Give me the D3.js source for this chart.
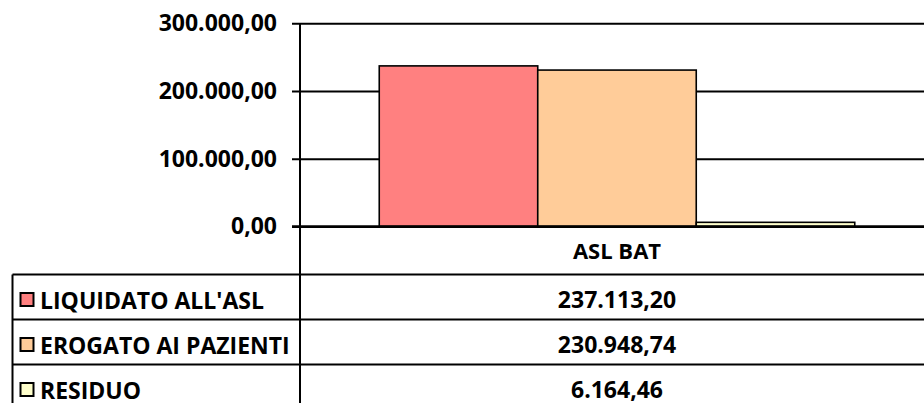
<!DOCTYPE html>
<html>
<head>
<meta charset="utf-8">
<script src="https://cdn.jsdelivr.net/npm/d3@7"></script>
<style>
  body { margin: 0; background: #fff; }
  text { font-family: "Open Sans", sans-serif; font-weight: bold; fill: #000; }
</style>
</head>
<body>
<div id="chart"></div>
<script>
// Data
const categories = ['ASL BAT'];
const series = ["LIQUIDATO ALL'ASL", 'EROGATO AI PAZIENTI', 'RESIDUO'];
const values = [237113.20, 230948.74, 6164.46];
const valueLabels = ['237.113,20', '230.948,74', '6.164,46'];
const tickValues = [0, 100000, 200000, 300000];
const tickLabels = ['0,00', '100.000,00', '200.000,00', '300.000,00'];
const colors = ['#FF8080', '#FFCC99', '#FFFFCC'];

// Dimensions
const dimensions = {
  width: 924,
  height: 403,
  plotLeft: 300,
  plotRight: 934,
  plotTop: 23.3,
  plotBottom: 226.5,
  tableTop: 274.5,
  rowHeight: 45,
  tableLeft: 12.5
};

const svg = d3.select('#chart')
  .append('svg')
  .attr('width', dimensions.width)
  .attr('height', dimensions.height);

// Scales
const yScale = d3.scaleLinear()
  .domain([0, 300000])
  .range([dimensions.plotBottom, dimensions.plotTop]);

const xScale = d3.scaleBand()
  .domain(categories)
  .range([dimensions.plotLeft, dimensions.plotRight]);

const seriesScale = d3.scaleBand()
  .domain(series)
  .range([0, xScale.bandwidth()])
  .paddingInner(0)
  .paddingOuter(0.5);

// Gridlines + tick labels
const yAxis = d3.axisLeft(yScale)
  .tickValues(tickValues)
  .tickSize(-(dimensions.width - dimensions.plotLeft + 20))
  .tickSizeOuter(0)
  .tickFormat((d, i) => tickLabels[i]);

const axisG = svg.append('g')
  .attr('transform', `translate(${dimensions.plotLeft},0)`)
  .call(yAxis);
axisG.select('.domain').remove();
axisG.selectAll('.tick line')
  .attr('x1', -8)
  .attr('stroke', '#000')
  .attr('stroke-width', 2);
axisG.selectAll('.tick text')
  .attr('x', -23)
  .attr('dy', '0.32em')
  .style('font-size', '23px')
  .style('font-family', '"Open Sans", sans-serif');

// Bars
const groups = svg.selectAll('g.cat')
  .data(categories)
  .join('g')
  .attr('class', 'cat')
  .attr('transform', d => `translate(${xScale(d)},0)`);

groups.selectAll('rect')
  .data(() => series.map((s, i) => ({ s, v: values[i], c: colors[i] })))
  .join('rect')
  .attr('x', d => seriesScale(d.s))
  .attr('y', d => yScale(d.v))
  .attr('width', seriesScale.bandwidth())
  .attr('height', d => yScale(0) - yScale(d.v))
  .attr('fill', d => d.c)
  .attr('stroke', '#000')
  .attr('stroke-width', 1.6);

// Zero line (x axis)
svg.append('line')
  .attr('x1', dimensions.plotLeft - 8)
  .attr('x2', dimensions.width)
  .attr('y1', yScale(0))
  .attr('y2', yScale(0))
  .attr('stroke', '#000')
  .attr('stroke-width', 2.5);

// Y axis line, continues through the table
svg.append('line')
  .attr('x1', dimensions.plotLeft)
  .attr('x2', dimensions.plotLeft)
  .attr('y1', dimensions.plotTop)
  .attr('y2', dimensions.height)
  .attr('stroke', '#000')
  .attr('stroke-width', 2);

// Category label
svg.selectAll('text.cat')
  .data(categories)
  .join('text')
  .attr('class', 'cat')
  .attr('x', d => xScale(d) + xScale.bandwidth() / 2)
  .attr('y', 259)
  .attr('text-anchor', 'middle')
  .style('font-size', '22px')
  .text(d => d);

// Data table
const rowY = i => dimensions.tableTop + i * dimensions.rowHeight;

svg.selectAll('line.row')
  .data(series)
  .join('line')
  .attr('class', 'row')
  .attr('x1', dimensions.tableLeft)
  .attr('x2', dimensions.width)
  .attr('y1', (d, i) => rowY(i))
  .attr('y2', (d, i) => rowY(i))
  .attr('stroke', '#000')
  .attr('stroke-width', 2);

svg.append('line')
  .attr('x1', dimensions.tableLeft)
  .attr('x2', dimensions.tableLeft)
  .attr('y1', dimensions.tableTop)
  .attr('y2', dimensions.height)
  .attr('stroke', '#000')
  .attr('stroke-width', 2);

const rows = svg.selectAll('g.row')
  .data(series)
  .join('g')
  .attr('class', 'row')
  .attr('transform', (d, i) => `translate(0,${rowY(i)})`);

rows.append('rect')
  .attr('x', 20.5)
  .attr('y', 18.5)
  .attr('width', 13)
  .attr('height', 13)
  .attr('fill', (d, i) => colors[i])
  .attr('stroke', '#000')
  .attr('stroke-width', 2);

rows.append('text')
  .attr('x', 40)
  .attr('y', 34)
  .style('font-size', '23px')
  .text(d => d);

rows.append('text')
  .attr('x', xScale(categories[0]) + xScale.bandwidth() / 2)
  .attr('y', 33)
  .attr('text-anchor', 'middle')
  .style('font-size', '23px')
  .text((d, i) => valueLabels[i]);
</script>
</body>
</html>
